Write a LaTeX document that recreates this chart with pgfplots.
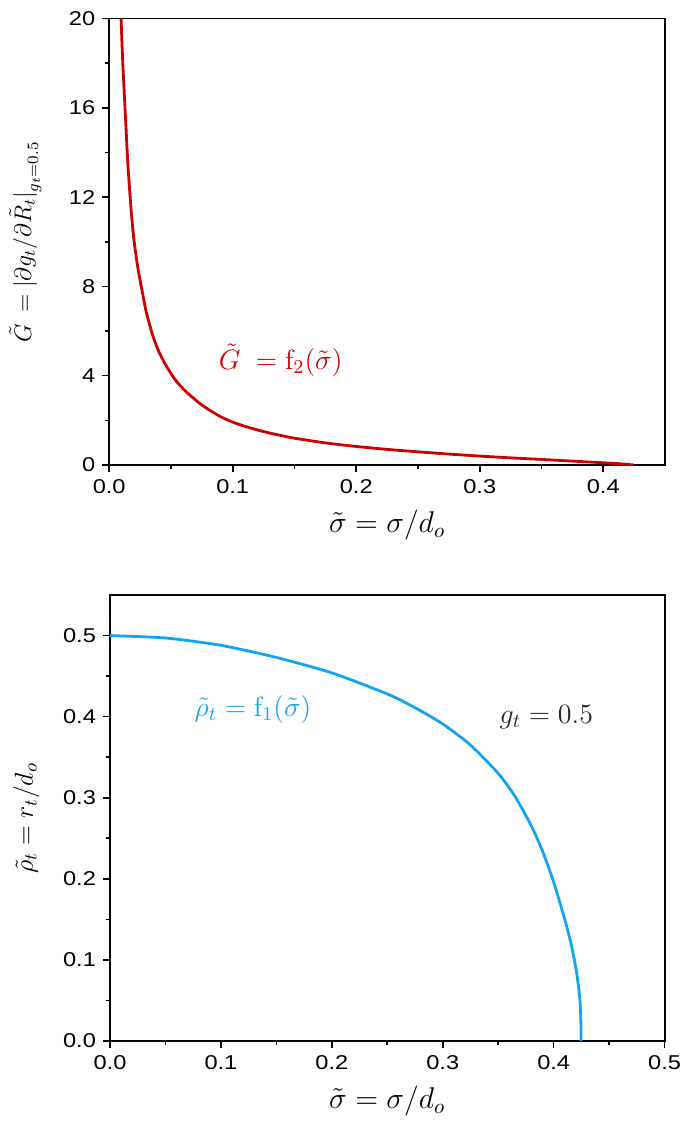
\RequirePackage{fix-cm}
\documentclass[border=0pt]{standalone}
\usepackage{pgfplots}
\pgfplotsset{compat=1.18}
\usepackage[no-math]{fontspec}
\setmainfont{Liberation Sans}
\newfontfamily\tickfont[FakeStretch=1.18]{Liberation Sans}
\newfontfamily\serifbf{Liberation Serif}
\definecolor{cred}{RGB}{204,0,0}
\definecolor{cblue}{RGB}{18,163,242}
\pgfplotsset{
  myaxis/.style={
    scale only axis=true,
    axis line style={line width=0.9pt},
    tick style={line width=0.8pt, black},
    major tick length=3.5pt,
    minor tick length=2.2pt,
    tick align=outside,
    xtick pos=bottom, ytick pos=left,
    minor tick num=1,
    /pgf/number format/assume math mode=true,
    ticklabel style={font=\tickfont\fontsize{10}{12}\selectfont},
    xlabel style={font=\fontsize{15}{17}\selectfont},
    ylabel style={font=\fontsize{13}{15}\selectfont},
  }
}
\begin{document}
\begin{tikzpicture}
\path[use as bounding box] (-54.6pt,-332.5pt) rectangle (287.9pt,232.5pt);
\begin{axis}[myaxis,
  width=277.9pt, height=223.3pt,
  xmin=0, xmax=0.45, ymin=0, ymax=20,
  xtick={0,0.1,0.2,0.3,0.4},
  ytick={0,4,8,12,16,20},
  xticklabel style={/pgf/number format/.cd,fixed,fixed zerofill,precision=1},
  xlabel={$\tilde{\sigma}=\sigma/d_o$},
  xlabel style={at={(axis description cs:0.5,-0.135)},anchor=center},
  ylabel={$\tilde{G}\,=\big|\partial g_t/\partial \tilde{R}_t\big|_{g_t=0.5}$},
  ylabel style={at={(axis description cs:-0.151,0.5)},anchor=center,font=\fontsize{12}{14}\selectfont},
]
\addplot[cred, line width=1.4pt, smooth, tension=0.4] coordinates {
(0.0096,20.0) (0.0110,18.0) (0.0128,16.0) (0.0152,13.4) (0.0178,11.4)
(0.0200,10.1) (0.0230,8.9) (0.0263,7.9) (0.0300,6.85) (0.0350,5.85)
(0.0400,5.1) (0.0466,4.4) (0.0530,3.85) (0.0600,3.4) (0.0670,3.05)
(0.0735,2.75) (0.0800,2.5) (0.0900,2.17) (0.1000,1.92) (0.1100,1.73)
(0.1200,1.57) (0.1300,1.43) (0.1400,1.31) (0.1500,1.20) (0.1750,0.99)
(0.2000,0.83) (0.2250,0.70) (0.2500,0.59) (0.2750,0.49) (0.3000,0.40)
(0.3250,0.32) (0.3500,0.25) (0.3750,0.175) (0.4000,0.10) (0.4150,0.05) (0.4247,0.0)
};
\node[anchor=west, text=cred, font=\fontsize{14}{16}\selectfont] at (axis cs:0.083,4.7) {$\tilde{G}\;=\mathrm{f}_2(\tilde{\sigma})$};
\node[font=\serifbf\bfseries\fontsize{16}{18}\selectfont] at (rel axis cs:-0.146,0.996) {(a)};
\end{axis}
\begin{axis}[myaxis, at={(0.4pt,-288pt)},
  width=277.3pt, height=223pt,
  xmin=0, xmax=0.5, ymin=0, ymax=0.55,
  xtick={0,0.1,0.2,0.3,0.4,0.5},
  ytick={0,0.1,0.2,0.3,0.4,0.5},
  xticklabel style={/pgf/number format/.cd,fixed,fixed zerofill,precision=1},
  yticklabel style={/pgf/number format/.cd,fixed,fixed zerofill,precision=1},
  xlabel={$\tilde{\sigma}=\sigma/d_o$},
  xlabel style={at={(axis description cs:0.5,-0.135)},anchor=center},
  ylabel={$\tilde{\rho}_t=r_t/d_o$},
  ylabel style={at={(axis description cs:-0.151,0.5)},anchor=center},
]
\addplot[cblue, line width=1.4pt, smooth, tension=0.4] coordinates {
(0,0.5) (0.05,0.497) (0.1,0.488) (0.15,0.473) (0.2,0.454) (0.25,0.428)
(0.275,0.411) (0.3,0.391) (0.325,0.365) (0.35,0.330) (0.365,0.302)
(0.38,0.265) (0.39,0.234) (0.40,0.196) (0.41,0.150) (0.416,0.118)
(0.420,0.090) (0.4225,0.066) (0.424,0.044) (0.4245,0.025) (0.4247,0)
};
\node[anchor=west, text=cblue, font=\fontsize{14}{16}\selectfont] at (axis cs:0.070,0.409) {$\tilde{\rho}_t=\mathrm{f}_1(\tilde{\sigma})$};
\node[anchor=west, text=black!85, font=\fontsize{14}{16}\selectfont] at (axis cs:0.345,0.399) {$g_t=0.5$};
\node[font=\serifbf\bfseries\fontsize{16}{18}\selectfont] at (rel axis cs:-0.146,0.991) {(b)};
\end{axis}
\end{tikzpicture}
\end{document}
